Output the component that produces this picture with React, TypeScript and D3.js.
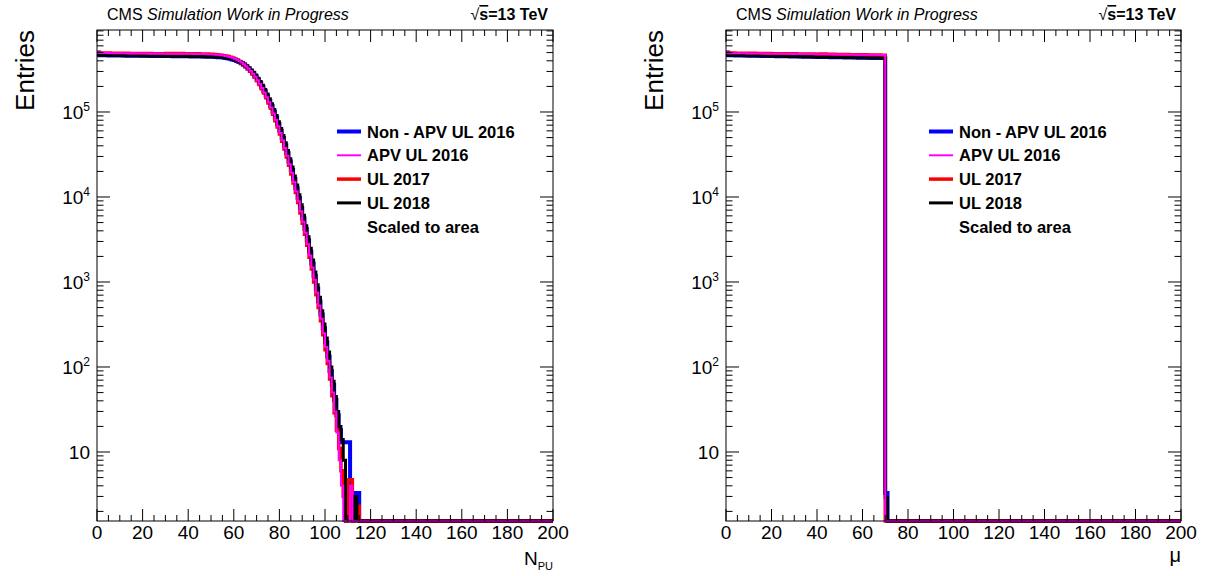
import React from "react";
import * as d3 from "d3";

// ---------------- data ----------------
// Left panel: N_PU histogram, 1-unit bins starting at 0. Bins past the end of each array are empty (0).
const nPuNonApv2016 = [
  5.0e5, 4.66e5, 4.65e5, 4.64e5, 4.65e5, 4.63e5, 4.64e5, 4.62e5, 4.63e5, 4.62e5,
  4.62e5, 4.61e5, 4.62e5, 4.6e5, 4.61e5, 4.6e5, 4.6e5, 4.59e5, 4.6e5, 4.58e5,
  4.59e5, 4.58e5, 4.58e5, 4.57e5, 4.58e5, 4.56e5, 4.57e5, 4.56e5, 4.56e5, 4.55e5,
  4.56e5, 4.55e5, 4.55e5, 4.54e5, 4.55e5, 4.53e5, 4.54e5, 4.53e5, 4.53e5, 4.52e5,
  4.52e5, 4.51e5, 4.52e5, 4.5e5, 4.51e5, 4.5e5, 4.5e5, 4.49e5, 4.48e5, 4.48e5,
  4.47e5, 4.46e5, 4.44e5, 4.42e5, 4.4e5, 4.37e5, 4.33e5, 4.29e5, 4.23e5, 4.16e5,
  4.08e5, 3.98e5, 3.87e5, 3.74e5, 3.59e5, 3.42e5, 3.24e5, 3.05e5, 2.85e5, 2.63e5,
  2.41e5, 2.19e5, 1.97e5, 1.76e5, 1.55e5, 1.36e5, 1.18e5, 1.01e5, 8.6e4, 7.2e4,
  6.0e4, 4.95e4, 4.05e4, 3.27e4, 2.62e4, 2.08e4, 1.63e4, 1.27e4, 9.7e3, 7.4e3,
  5.6e3, 4.2e3, 3.1e3, 2.27e3, 1.65e3, 1.18e3, 840, 590, 415, 285,
  195, 133, 90, 62, 41, 27, 18, 13, 13, 13,
  13, 3.3, 3.3, 3.3, 3.3, 0,
];
const nPuApv2016 = [
  4.96e5, 4.94e5, 4.95e5, 4.93e5, 4.94e5, 4.92e5, 4.93e5, 4.91e5, 4.92e5, 4.9e5,
  4.91e5, 4.9e5, 4.91e5, 4.89e5, 4.9e5, 4.88e5, 4.9e5, 4.88e5, 4.89e5, 4.87e5,
  4.88e5, 4.87e5, 4.88e5, 4.86e5, 4.87e5, 4.86e5, 4.87e5, 4.85e5, 4.86e5, 4.85e5,
  4.86e5, 4.85e5, 4.86e5, 4.84e5, 4.85e5, 4.84e5, 4.85e5, 4.84e5, 4.84e5, 4.83e5,
  4.84e5, 4.83e5, 4.83e5, 4.82e5, 4.82e5, 4.81e5, 4.81e5, 4.8e5, 4.79e5, 4.78e5,
  4.77e5, 4.75e5, 4.73e5, 4.7e5, 4.66e5, 4.62e5, 4.57e5, 4.51e5, 4.43e5, 4.34e5,
  4.23e5, 4.11e5, 3.97e5, 3.81e5, 3.64e5, 3.45e5, 3.25e5, 3.04e5, 2.82e5, 2.59e5,
  2.36e5, 2.13e5, 1.91e5, 1.7e5, 1.49e5, 1.3e5, 1.13e5, 9.6e4, 8.1e4, 6.8e4,
  5.65e4, 4.65e4, 3.78e4, 3.05e4, 2.43e4, 1.93e4, 1.5e4, 1.17e4, 8.9e3, 6.8e3,
  5.1e3, 3.8e3, 2.8e3, 2.05e3, 1.48e3, 1.06e3, 750, 530, 370, 250,
  172, 118, 75, 50, 30, 17, 8, 4, 0, 0,
  0, 4, 0, 0, 0, 0,
];
const nPuUl2017 = [
  4.95e5, 4.95e5, 4.93e5, 4.94e5, 4.92e5, 4.93e5, 4.92e5, 4.92e5, 4.9e5, 4.91e5,
  4.9e5, 4.91e5, 4.89e5, 4.9e5, 4.89e5, 4.89e5, 4.88e5, 4.89e5, 4.87e5, 4.88e5,
  4.87e5, 4.88e5, 4.86e5, 4.87e5, 4.86e5, 4.86e5, 4.85e5, 4.86e5, 4.86e5, 4.85e5,
  4.87e5, 4.86e5, 4.88e5, 4.87e5, 4.89e5, 4.88e5, 4.88e5, 4.87e5, 4.86e5, 4.85e5,
  4.85e5, 4.84e5, 4.84e5, 4.83e5, 4.83e5, 4.82e5, 4.81e5, 4.8e5, 4.8e5, 4.79e5,
  4.77e5, 4.75e5, 4.72e5, 4.69e5, 4.65e5, 4.6e5, 4.55e5, 4.49e5, 4.41e5, 4.31e5,
  4.2e5, 4.08e5, 3.94e5, 3.78e5, 3.61e5, 3.42e5, 3.22e5, 3.01e5, 2.79e5, 2.56e5,
  2.33e5, 2.1e5, 1.88e5, 1.67e5, 1.47e5, 1.28e5, 1.11e5, 9.4e4, 7.9e4, 6.65e4,
  5.5e4, 4.52e4, 3.68e4, 2.96e4, 2.36e4, 1.87e4, 1.46e4, 1.13e4, 8.6e3, 6.5e3,
  4.9e3, 3.65e3, 2.7e3, 1.95e3, 1.42e3, 1.0e3, 710, 500, 350, 240,
  160, 110, 72, 46, 29, 18, 11, 6, 3, 0,
  4.7, 4.7, 0, 2.3, 2.3, 0,
];
const nPuUl2018 = [
  4.7e5, 4.65e5, 4.64e5, 4.65e5, 4.63e5, 4.64e5, 4.62e5, 4.63e5, 4.62e5, 4.61e5,
  4.62e5, 4.6e5, 4.61e5, 4.6e5, 4.6e5, 4.59e5, 4.59e5, 4.58e5, 4.59e5, 4.57e5,
  4.58e5, 4.57e5, 4.57e5, 4.56e5, 4.57e5, 4.55e5, 4.56e5, 4.55e5, 4.55e5, 4.54e5,
  4.55e5, 4.54e5, 4.54e5, 4.53e5, 4.53e5, 4.52e5, 4.53e5, 4.52e5, 4.52e5, 4.51e5,
  4.51e5, 4.5e5, 4.51e5, 4.49e5, 4.5e5, 4.49e5, 4.48e5, 4.48e5, 4.47e5, 4.47e5,
  4.46e5, 4.45e5, 4.44e5, 4.42e5, 4.4e5, 4.38e5, 4.35e5, 4.31e5, 4.26e5, 4.2e5,
  4.12e5, 4.03e5, 3.92e5, 3.8e5, 3.66e5, 3.5e5, 3.32e5, 3.13e5, 2.93e5, 2.72e5,
  2.5e5, 2.28e5, 2.06e5, 1.84e5, 1.63e5, 1.43e5, 1.25e5, 1.07e5, 9.1e4, 7.7e4,
  6.4e4, 5.3e4, 4.35e4, 3.52e4, 2.82e4, 2.25e4, 1.77e4, 1.38e4, 1.06e4, 8.1e3,
  6.1e3, 4.6e3, 3.4e3, 2.5e3, 1.82e3, 1.31e3, 930, 660, 460, 320,
  220, 150, 100, 68, 45, 30, 20, 14, 8, 0,
  0, 0, 0, 3, 0, 0,
];

// Right panel: mu histogram, 1-unit bins starting at 0. Bins past the end are empty (0).
const muNonApv2016 = [
  5.0e5, 4.66e5, 4.64e5, 4.65e5, 4.63e5, 4.64e5, 4.62e5, 4.63e5, 4.61e5, 4.62e5,
  4.6e5, 4.61e5, 4.59e5, 4.6e5, 4.58e5, 4.59e5, 4.57e5, 4.58e5, 4.56e5, 4.57e5,
  4.55e5, 4.56e5, 4.54e5, 4.55e5, 4.53e5, 4.54e5, 4.52e5, 4.53e5, 4.51e5, 4.52e5,
  4.5e5, 4.51e5, 4.49e5, 4.5e5, 4.48e5, 4.49e5, 4.47e5, 4.48e5, 4.46e5, 4.47e5,
  4.45e5, 4.46e5, 4.44e5, 4.45e5, 4.43e5, 4.44e5, 4.42e5, 4.43e5, 4.41e5, 4.42e5,
  4.4e5, 4.41e5, 4.39e5, 4.4e5, 4.38e5, 4.39e5, 4.37e5, 4.38e5, 4.36e5, 4.37e5,
  4.35e5, 4.36e5, 4.34e5, 4.35e5, 4.33e5, 4.34e5, 4.32e5, 4.33e5, 4.31e5, 4.32e5,
  3.3,
];
const muApv2016 = [
  4.93e5, 4.92e5, 4.92e5, 4.91e5, 4.91e5, 4.9e5, 4.91e5, 4.9e5, 4.9e5, 4.89e5,
  4.89e5, 4.88e5, 4.89e5, 4.88e5, 4.88e5, 4.87e5, 4.87e5, 4.86e5, 4.87e5, 4.86e5,
  4.86e5, 4.85e5, 4.85e5, 4.84e5, 4.85e5, 4.84e5, 4.84e5, 4.83e5, 4.83e5, 4.82e5,
  4.83e5, 4.82e5, 4.82e5, 4.81e5, 4.81e5, 4.8e5, 4.81e5, 4.8e5, 4.8e5, 4.79e5,
  4.79e5, 4.78e5, 4.79e5, 4.78e5, 4.78e5, 4.77e5, 4.77e5, 4.76e5, 4.77e5, 4.76e5,
  4.76e5, 4.75e5, 4.75e5, 4.74e5, 4.75e5, 4.74e5, 4.74e5, 4.73e5, 4.73e5, 4.72e5,
  4.72e5, 4.71e5, 4.72e5, 4.71e5, 4.71e5, 4.7e5, 4.7e5, 4.69e5, 4.69e5, 4.68e5,
  0,
];
const muUl2017 = [
  4.9e5, 4.94e5, 4.93e5, 4.93e5, 4.92e5, 4.92e5, 4.91e5, 4.92e5, 4.9e5, 4.91e5,
  4.9e5, 4.89e5, 4.9e5, 4.88e5, 4.89e5, 4.88e5, 4.87e5, 4.88e5, 4.86e5, 4.87e5,
  4.86e5, 4.86e5, 4.85e5, 4.86e5, 4.84e5, 4.85e5, 4.84e5, 4.83e5, 4.84e5, 4.82e5,
  4.83e5, 4.82e5, 4.81e5, 4.82e5, 4.8e5, 4.81e5, 4.8e5, 4.79e5, 4.8e5, 4.78e5,
  4.79e5, 4.8e5, 4.82e5, 4.81e5, 4.79e5, 4.78e5, 4.77e5, 4.77e5, 4.76e5, 4.76e5,
  4.75e5, 4.75e5, 4.74e5, 4.74e5, 4.73e5, 4.73e5, 4.72e5, 4.72e5, 4.71e5, 4.71e5,
  4.7e5, 4.7e5, 4.69e5, 4.69e5, 4.68e5, 4.68e5, 4.67e5, 4.67e5, 4.66e5, 4.66e5,
  0,
];
const muUl2018 = [
  4.68e5, 4.64e5, 4.63e5, 4.63e5, 4.62e5, 4.62e5, 4.61e5, 4.61e5, 4.6e5, 4.6e5,
  4.59e5, 4.59e5, 4.58e5, 4.58e5, 4.57e5, 4.57e5, 4.56e5, 4.56e5, 4.55e5, 4.55e5,
  4.54e5, 4.54e5, 4.53e5, 4.53e5, 4.52e5, 4.52e5, 4.51e5, 4.51e5, 4.5e5, 4.5e5,
  4.49e5, 4.49e5, 4.48e5, 4.48e5, 4.47e5, 4.47e5, 4.46e5, 4.46e5, 4.45e5, 4.45e5,
  4.44e5, 4.44e5, 4.43e5, 4.43e5, 4.42e5, 4.42e5, 4.41e5, 4.41e5, 4.4e5, 4.4e5,
  4.39e5, 4.39e5, 4.38e5, 4.38e5, 4.37e5, 4.37e5, 4.36e5, 4.36e5, 4.35e5, 4.35e5,
  4.34e5, 4.34e5, 4.33e5, 4.33e5, 4.32e5, 4.32e5, 4.31e5, 4.31e5, 4.3e5, 4.3e5,
  2.9,
];

const legendLabels = ["Non - APV UL 2016", "APV UL 2016", "UL 2017", "UL 2018"];
const legendNote = "Scaled to area";
const xTickValues = [0, 20, 40, 60, 80, 100, 120, 140, 160, 180, 200];
const yDecades = [1, 2, 3, 4, 5];
const xDomain = [0, 200];
const yDomain = [1.542, 9.22e5];
const nBins = 200;

// ---------------- styling ----------------
const FONT = "'Liberation Sans', Arial, Helvetica, sans-serif";
const Y_TOP = 30;
const Y_BOT = 521;
const seriesStyle = [
  { color: "#0000ff", width: 4 },
  { color: "#ff00ff", width: 2 },
  { color: "#ff0000", width: 3.5 },
  { color: "#000000", width: 3 },
];
const drawOrder = [0, 2, 3, 1];

type PanelProps = {
  x0: number;
  x1: number;
  series: number[][];
  xTitle: "npu" | "mu";
  legendX: number;
};

function Panel({ x0, x1, series, xTitle, legendX }: PanelProps) {
  const x = d3.scaleLinear().domain(xDomain).range([x0, x1]);
  const y = d3.scaleLog().domain(yDomain).range([Y_BOT, Y_TOP]);
  const ymin = yDomain[0];

  const stepPath = (vals: number[]) => {
    const p = d3.path();
    for (let i = 0; i < nBins; i++) {
      const v = i < vals.length ? vals[i] : 0;
      const yy = y(Math.max(v, ymin));
      if (i === 0) p.moveTo(x(0), yy);
      else p.lineTo(x(i), yy);
      p.lineTo(x(i + 1), yy);
    }
    return p.toString();
  };

  const xMinor = d3.range(0, 201, 5).filter((v) => v % 20 !== 0);
  const yMinor: number[] = [];
  for (let k = 0; k <= 5; k++) {
    for (let m = 2; m <= 9; m++) {
      const v = m * Math.pow(10, k);
      if (v > yDomain[0] && v < yDomain[1]) yMinor.push(v);
    }
  }
  const yMajor = yDecades.map((k) => Math.pow(10, k));

  const lines: React.ReactNode[] = [];
  xTickValues.forEach((v) => {
    lines.push(<line key={"xb" + v} x1={x(v)} x2={x(v)} y1={Y_BOT} y2={Y_BOT - 12} />);
    lines.push(<line key={"xt" + v} x1={x(v)} x2={x(v)} y1={Y_TOP} y2={Y_TOP + 12} />);
  });
  xMinor.forEach((v) => {
    lines.push(<line key={"xbm" + v} x1={x(v)} x2={x(v)} y1={Y_BOT} y2={Y_BOT - 6} />);
    lines.push(<line key={"xtm" + v} x1={x(v)} x2={x(v)} y1={Y_TOP} y2={Y_TOP + 6} />);
  });
  yMajor.forEach((v) => {
    lines.push(<line key={"yl" + v} x1={x0} x2={x0 + 13} y1={y(v)} y2={y(v)} />);
    lines.push(<line key={"yr" + v} x1={x1} x2={x1 - 13} y1={y(v)} y2={y(v)} />);
  });
  yMinor.forEach((v) => {
    lines.push(<line key={"ylm" + v} x1={x0} x2={x0 + 6.5} y1={y(v)} y2={y(v)} />);
    lines.push(<line key={"yrm" + v} x1={x1} x2={x1 - 6.5} y1={y(v)} y2={y(v)} />);
  });

  const rowY = (i: number) => 131.5 + 23.8 * i;

  return (
    <g fontFamily={FONT}>
      {/* histograms */}
      {drawOrder.map((si) => (
        <path
          key={"s" + si}
          d={stepPath(series[si])}
          fill="none"
          stroke={seriesStyle[si].color}
          strokeWidth={seriesStyle[si].width}
          strokeLinejoin="miter"
        />
      ))}
      {/* frame */}
      <rect x={x0} y={Y_TOP} width={x1 - x0} height={Y_BOT - Y_TOP} fill="none" stroke="#000" strokeWidth={1} />
      <g stroke="#000" strokeWidth={1}>{lines}</g>
      {/* x tick labels */}
      {xTickValues.map((v) => (
        <text key={"xl" + v} x={x(v)} y={539} fontSize={19} textAnchor="middle" fill="#000">
          {v}
        </text>
      ))}
      {/* y tick labels */}
      {yDecades.map((k) => (
        <text key={"yl" + k} x={x0 - 7} y={y(Math.pow(10, k)) + 6.8} fontSize={19} textAnchor="end" fill="#000">
          <tspan>10</tspan>
          {k > 1 ? (
            <tspan fontSize={12} dy={-8}>
              {k}
            </tspan>
          ) : null}
        </text>
      ))}
      {/* y title */}
      <text
        transform={`translate(${x0 - 63},${Y_TOP}) rotate(-90)`}
        fontSize={26}
        textAnchor="end"
        fill="#000"
      >
        Entries
      </text>
      {/* x title */}
      {xTitle === "npu" ? (
        <text x={x1} y={565} textAnchor="end" fill="#000" fontSize={19}>
          <tspan>N</tspan>
          <tspan fontSize={11} dy={5}>PU</tspan>
        </text>
      ) : (
        <text x={x1} y={562} textAnchor="end" fill="#000" fontSize={20}>
          μ
        </text>
      )}
      {/* header */}
      <text x={x0 + 10} y={20} fontSize={16} fill="#000">
        <tspan>CMS </tspan>
        <tspan fontStyle="italic">Simulation Work in Progress</tspan>
      </text>
      <text x={x1 - 5} y={20} fontSize={16} fontWeight="bold" textAnchor="end" fill="#000">
        <tspan fontWeight="normal">√</tspan>
        <tspan style={{ textDecoration: "overline" }}>s</tspan>
        <tspan>=13 TeV</tspan>
      </text>
      {/* legend */}
      {legendLabels.map((lab, i) => (
        <g key={"lg" + i}>
          <line
            x1={legendX}
            x2={legendX + 24}
            y1={rowY(i)}
            y2={rowY(i)}
            stroke={seriesStyle[i].color}
            strokeWidth={seriesStyle[i].width}
          />
          <text x={legendX + 30} y={rowY(i) + 6} fontSize={16.5} fontWeight="bold" fill="#000">
            {lab}
          </text>
        </g>
      ))}
      <text x={legendX + 30} y={rowY(4) + 6} fontSize={16.5} fontWeight="bold" fill="#000">
        {legendNote}
      </text>
    </g>
  );
}

export default function App() {
  return (
    <svg
      width={1205}
      height={576}
      viewBox="0 0 1205 576"
      style={{ position: "absolute", left: 0, top: 0, background: "#fff" }}
    >
      <rect x={0} y={0} width={1205} height={576} fill="#fff" />
      <Panel
        x0={97}
        x1={553}
        series={[nPuNonApv2016, nPuApv2016, nPuUl2017, nPuUl2018]}
        xTitle="npu"
        legendX={337}
      />
      <Panel
        x0={726}
        x1={1181}
        series={[muNonApv2016, muApv2016, muUl2017, muUl2018]}
        xTitle="mu"
        legendX={929}
      />
    </svg>
  );
}
